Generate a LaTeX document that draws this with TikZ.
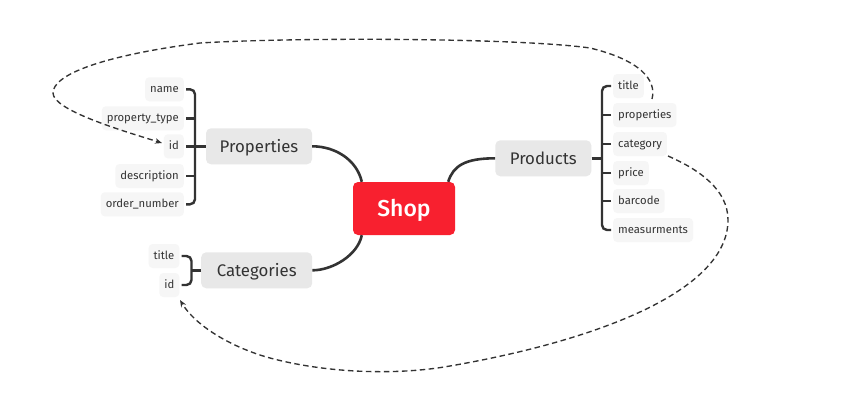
\documentclass[tikz,border=0pt]{standalone}
\usepackage{fontspec}
\setmainfont{Fira Sans}
\newfontfamily\shopfont{Fira Sans Medium}
\usetikzlibrary{arrows.meta}
\definecolor{shopred}{HTML}{F8202F}
\definecolor{mainfill}{HTML}{E8E8E8}
\definecolor{subfill}{HTML}{F6F6F6}
\definecolor{ink}{HTML}{333333}
\begin{document}
\begin{tikzpicture}[x=1pt,y=-1pt,
 sub/.style={fill=subfill, rounded corners=4pt, minimum height=24pt, inner xsep=5pt, inner ysep=0pt,
   text height=6pt, text depth=0pt, font=\fontsize{11.3}{13}\selectfont, text=ink},
 topic/.style={fill=mainfill, rounded corners=5pt, minimum height=36pt, inner sep=0pt,
   text height=11.5pt, text depth=0pt, font=\fontsize{16.8}{19}\selectfont, text=ink},
 root/.style={fill=shopred, rounded corners=5pt, minimum width=102pt, minimum height=53pt, inner sep=0pt,
   text height=15.5pt, text depth=0pt, text=white, font=\fontsize{23}{26}\shopfont},
 link/.style={draw=ink, line width=2.6pt},
 brace/.style={draw=ink, line width=2.4pt, rounded corners=5pt},
 ref/.style={draw=ink, line width=1.35pt, dash pattern=on 5.5pt off 3.5pt, -{Stealth[length=7pt,width=5.5pt]}}]

\useasboundingbox (0,0) rectangle (841,415);
\fill[white] (0,0) rectangle (841,415);

% root
\node[root] (shop) at (404,208.5) {Shop};

% topics
\node[topic, minimum width=106pt] (props) at (259,146.3) {Properties};
\node[topic, minimum width=96pt] (prod) at (543.3,158.3) {Products};
\node[topic, minimum width=111pt] (cat) at (256.7,270.3) {Categories};

% Properties children
\node[sub, anchor=east] (pname)  at (184,89.3)  {name};
\node[sub, anchor=east] (ptype)  at (184,118.3) {property\_type};
\node[sub, anchor=east] (pid)    at (184,146.3) {id};
\node[sub, anchor=east] (pdesc)  at (184,176)   {description};
\node[sub, anchor=east] (porder) at (184,204.3) {order\_number};

% Products children
\node[sub, anchor=west] (qtitle) at (613,86)  {title};
\node[sub, anchor=west] (qprop)  at (613,115) {properties};
\node[sub, anchor=west] (qcat)   at (613,144) {category};
\node[sub, anchor=west] (qprice) at (613,173) {price};
\node[sub, anchor=west] (qbar)   at (613,201) {barcode};
\node[sub, anchor=west] (qmeas)  at (613,230) {measurments};

% Categories children
\node[sub, anchor=east] (ctitle) at (179.5,256) {title};
\node[sub, anchor=east] (cid)    at (179.5,285) {id};

% root links
\draw[link] ([xshift=9pt]shop.north west) .. controls +(-5,-22) and +(23,0) .. (props.east);
\draw[link] ([xshift=-7pt]shop.north east) .. controls +(5,-16) and +(-30,0) .. (prod.west);
\draw[link] ([xshift=9pt]shop.south west) .. controls +(-4,20) and +(20,0) .. (cat.east);

% Properties bracket
\coordinate (pspT) at ([xshift=11pt]pname.east);
\coordinate (pspB) at (pspT |- porder.east);
\draw[brace] ([xshift=2pt]pname.east) -| (pspB) -- ([xshift=2pt]porder.east);
\draw[brace] ([xshift=2pt]ptype.east) -- (pspT |- ptype.east);
\draw[brace] ([xshift=2pt]pdesc.east) -- (pspT |- pdesc.east);
\draw[brace] ([xshift=2pt]pid.east) -- (props.west);

% Products bracket
\coordinate (qspT) at ([xshift=-11pt]qtitle.west);
\coordinate (qspB) at (qspT |- qmeas.west);
\draw[brace] ([xshift=-2pt]qtitle.west) -| (qspB) -- ([xshift=-2pt]qmeas.west);
\draw[brace] ([xshift=-2pt]qprop.west) -- (qspT |- qprop.west);
\draw[brace] ([xshift=-2pt]qcat.west) -- (qspT |- qcat.west);
\draw[brace] ([xshift=-2pt]qprice.west) -- (qspT |- qprice.west);
\draw[brace] ([xshift=-2pt]qbar.west) -- (qspT |- qbar.west);
\draw[brace] (prod.east) -- (qspT |- prod.east);

% Categories bracket
\coordinate (cspT) at ([xshift=12pt]ctitle.east);
\coordinate (cspB) at (cspT |- cid.east);
\draw[brace] ([xshift=2pt]ctitle.east) -| (cspB) -- ([xshift=2pt]cid.east);
\draw[brace] (cat.west) -- (cspT |- cat.west);

% references
\coordinate (r1s) at (652,99);
\coordinate (r1e) at (162,143);
\coordinate (r2s) at (668,156);
\coordinate (r2e) at (180,300);
\draw[ref] (r1s) .. controls (657,80) and (640,60) .. (590,48)
  .. controls (520,38) and (300,37) .. (200,43)
  .. controls (100,56) and (53,75) .. (53,93)
  .. controls (53,110) and (120,130) .. (r1e);
\draw[ref] (r2s) .. controls (700,170) and (728,190) .. (728,220)
  .. controls (728,290) and (600,340) .. (450,366)
  .. controls (400,375) and (330,374) .. (270,358)
  .. controls (230,347) and (195,325) .. (r2e);
\end{tikzpicture}
\end{document}
